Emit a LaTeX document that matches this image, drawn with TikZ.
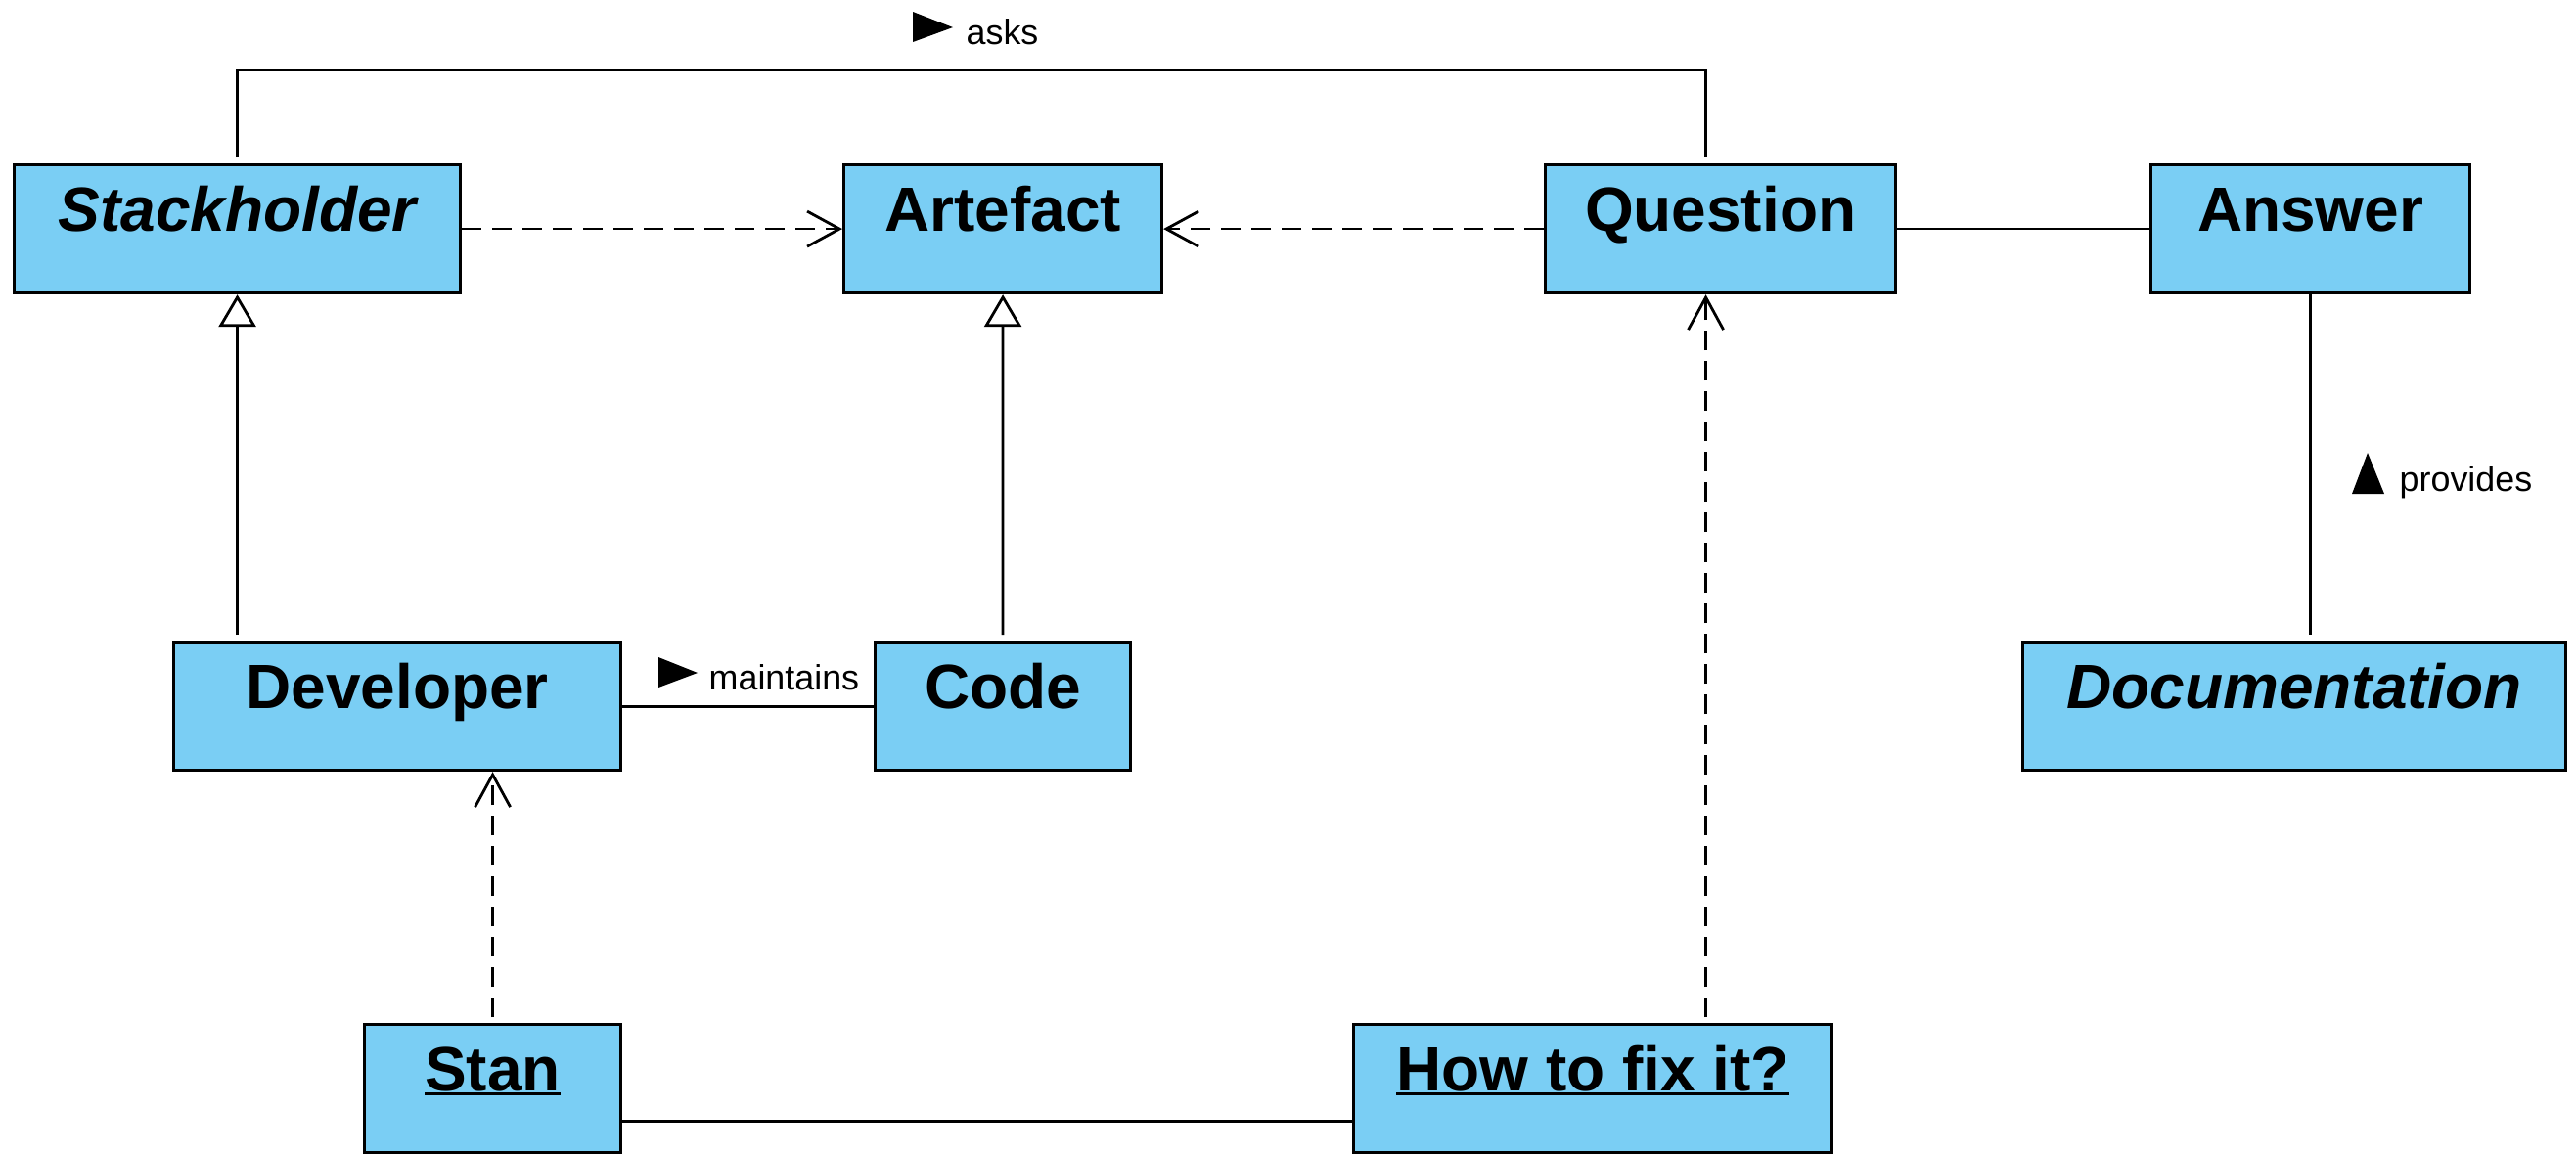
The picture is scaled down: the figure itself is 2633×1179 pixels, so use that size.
\documentclass[tikz,border=0pt]{standalone}
\usepackage{fontspec}
\setmainfont{Liberation Sans}
\usetikzlibrary{calc,positioning,arrows.meta}

\definecolor{classblue}{RGB}{122,206,244}

% underlined object name
\newcommand\objname[1]{\sbox0{#1}\rlap{\usebox0}\rule[-0.5mm]{\wd0}{0.35mm}}

\tikzset{
	umlclass/.style={draw, line width=0.9pt, fill=classblue, anchor=north west,
		inner xsep=0pt, inner ysep=0pt, text height=6.75mm, text depth=6.35mm,
		font=\fontsize{18.2}{20}\selectfont\bfseries},
	assoc/.style={line width=0.8pt},
	depend/.style={line width=0.8pt, dash pattern=on 2mm off 1.1mm,
		-{Straight Barb[length=3.3mm, width=3.6mm]}},
	inherit/.style={line width=0.8pt,
		-{Triangle[length=3.3mm, width=3.8mm, fill=white]}},
	rolename/.style={font=\fontsize{10.2}{12}\selectfont, anchor=base west, inner sep=0pt},
}

\begin{document}
\begin{tikzpicture}[x=0.1mm, y=-0.1mm]

	\useasboundingbox (0,0) rectangle (2633,1179);

	\def\yTop{167}
	\def\yMid{655}
	\def\yLow{1046}
	\def\yAsks{72}

	% classes
	\node[umlclass, minimum width=45.6mm] (stake) at (13,\yTop) {\itshape Stackholder};
	\node[umlclass, minimum width=32.5mm] (artefact) at (861,\yTop) {Artefact};
	\node[umlclass, minimum width=35.8mm] (question) at (1578,\yTop) {Question};
	\node[umlclass, minimum width=32.6mm] (answer) at (2197,\yTop) {Answer};
	\node[umlclass, minimum width=45.7mm] (developer) at (176,\yMid) {Developer};
	\node[umlclass, minimum width=26.1mm] (code) at (893,\yMid) {Code};
	\node[umlclass, minimum width=55.5mm] (docu) at (2066,\yMid) {\itshape Documentation};

	% objects
	\node[umlclass, minimum width=26.2mm] (stan) at (371,\yLow) {\objname{Stan}};
	\node[umlclass, minimum width=48.9mm] (howto) at (1382,\yLow) {\objname{How to fix it?}};

	\coordinate (asksline) at (0,\yAsks);
	\coordinate (qtop) at ([xshift=-1.5mm]question.north);
	\coordinate (qfoot) at ([xshift=-1.5mm]question.south);

	% generalisation
	\draw[inherit, shorten <=0.6mm] (developer.north -| stake.south) -- (stake.south);
	\draw[inherit, shorten <=0.6mm] (code.north) -- (artefact.south);

	% dependencies
	\draw[depend] (stake.east) -- (artefact.west);
	\draw[depend] (question.west) -- (artefact.east);
	\draw[depend, shorten <=0.6mm] (stan.north) -- (stan.north |- developer.south);
	\draw[depend, shorten <=0.6mm] (howto.north -| qfoot) -- (qfoot);

	% associations
	\draw[assoc, shorten <=0.6mm, shorten >=0.6mm]
		(stake.north) -- (stake.north |- asksline) -| (qtop);
	\draw[assoc] (question.east) -- (answer.west);
	\draw[assoc] (developer.east) -- (code.west);
	\draw[assoc, shorten >=0.6mm] (answer.south) -- (answer.south |- docu.north);
	\draw[assoc]
		([yshift=-3.35mm]stan.east) -- ([yshift=-3.35mm]stan.east -| howto.west);

	% role names
	\node[rolename] (asks) at (987,45) {asks};
	\fill (933,12) -- (974,28) -- (933,43) -- cycle;
	\node[rolename] (maintains) at (724,705) {maintains};
	\fill (673,672) -- (713,688) -- (673,703) -- cycle;
	\node[rolename] (provides) at (2452,502) {provides};
	\fill (2404,505) -- (2420,463) -- (2437,505) -- cycle;

\end{tikzpicture}
\end{document}
